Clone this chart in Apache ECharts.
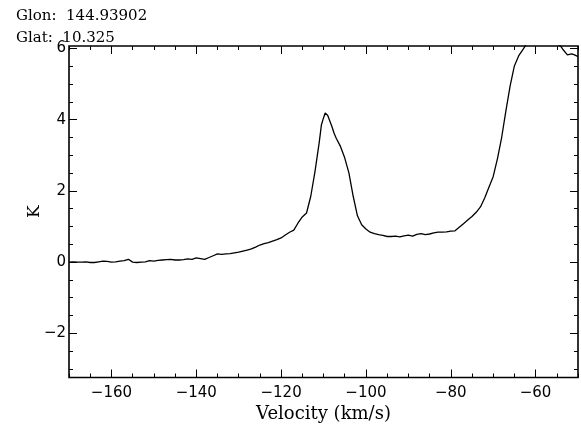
<!DOCTYPE html>
<html>
<head>
<meta charset="utf-8">
<script src="https://cdn.jsdelivr.net/npm/echarts@6/dist/echarts.min.js"></script>
<style>html,body{margin:0;padding:0;background:#fff;}#c{width:581px;height:436px;}</style>
</head>
<body>
<div id="c"></div>
<script>
const glonText = 'Glon:  144.93902';
const glatText = 'Glat:  10.325';
const xTitle = 'Velocity (km/s)';
const yTitle = 'K';
const xMajor = [-160, -140, -120, -100, -80, -60];
const xMinor = [-170,-165,-160,-155,-150,-145,-140,-135,-130,-125,-120,-115,-110,-105,-100,-95,-90,-85,-80,-75,-70,-65,-60,-55,-50];
const yMajor = [-2, 0, 2, 4, 6];
const yMinor = [-3,-2.5,-2,-1.5,-1,-0.5,0,0.5,1,1.5,2,2.5,3,3.5,4,4.5,5,5.5,6];

const velocity = [
 -170,-169,-168,-167,-166,-165,-164,-163,-162,-161,-160,-159,-158,-157,-156,-155,-154,-153,-152,-151,
 -150,-149,-148,-147,-146,-145,-144,-143,-142,-141,-140,-139,-138,-137,-136,-135,-134,-133,-132,-131,
 -130,-129,-128,-127,-126,-125,-124,-123,-122,-121,-120,-119,-118,-117,-116,-115,-114,-113,-112,-111,
 -110.5,-110,-109.6,-109,-108.6,-108,-107.5,-107,-106,-105,-104,-103,-102,-101,-100,-99,-98,-97,-96,-95,
 -94,-93,-92,-91,-90,-89,-88,-87,-86,-85,-84,-83,-82,-81,-80,-79,-78,-77,-76,-75,
 -74,-73,-72,-71,-70,-69,-68,-67,-66,-65,-64,-63,-62,-61,-60,-59,-58,-57,-56,-55,
 -54,-53.4,-52.5,-51.5,-50.8,-50
];
const kelvin = [
 0.00,0.01,0.00,0.00,0.01,-0.01,-0.01,0.01,0.03,0.02,0.00,0.01,0.03,0.04,0.08,0.00,-0.01,0.00,0.01,0.04,
 0.03,0.05,0.06,0.07,0.08,0.06,0.06,0.07,0.09,0.08,0.12,0.10,0.08,0.13,0.18,0.23,0.22,0.23,0.24,0.26,
 0.28,0.31,0.34,0.37,0.42,0.48,0.52,0.55,0.59,0.63,0.68,0.76,0.84,0.90,1.10,1.27,1.38,1.85,2.55,3.37,
 3.85,4.05,4.19,4.12,4.07,3.80,3.62,3.48,3.25,2.93,2.50,1.85,1.30,1.05,0.93,0.84,0.80,0.77,0.75,0.72,
 0.72,0.73,0.71,0.74,0.76,0.73,0.78,0.80,0.77,0.79,0.82,0.84,0.84,0.85,0.87,0.88,0.98,1.08,1.18,1.28,
 1.40,1.55,1.80,2.10,2.40,2.90,3.50,4.25,4.95,5.51,5.79,5.97,6.15,6.30,6.40,6.45,6.40,6.35,6.25,6.15,
 6.05,5.95,5.82,5.85,5.82,5.77
];

const X_MIN = -170, X_MAX = -50, Y_MIN = -3.24, Y_MAX = 6.07;
const LAB = {color:'#000', fontFamily:'DejaVu Sans', fontSize:15};
const fmt = v => String(v).replace('-', '\u2212');

function xAx(pos, vals, len, labels, name) {
  const a = {type:'value', position:pos, min:X_MIN, max:X_MAX,
    axisLine:{show:false, onZero:false}, splitLine:{show:false},
    axisTick:{show:true, inside:true, length:len, customValues:vals, lineStyle:{color:'#000', width:1}},
    axisLabel:{show:labels, customValues:vals, margin:8, formatter:fmt, ...LAB}};
  if (name) { a.name = name; a.nameLocation = 'middle'; a.nameGap = 24;
    a.nameTextStyle = {color:'#000', fontFamily:'DejaVu Serif', fontSize:18}; }
  return a;
}
function yAx(pos, vals, len, labels, name) {
  const a = {type:'value', position:pos, min:Y_MIN, max:Y_MAX,
    axisLine:{show:false, onZero:false}, splitLine:{show:false},
    axisTick:{show:true, inside:true, length:len, customValues:vals, lineStyle:{color:'#000', width:1}},
    axisLabel:{show:labels, customValues:vals, margin:3, formatter:fmt, ...LAB}};
  if (name) { a.name = name; a.nameLocation = 'middle'; a.nameGap = 26; a.nameRotate = 90;
    a.nameMoveOverlap = false;
    a.nameTextStyle = {color:'#000', fontFamily:'DejaVu Serif', fontSize:17}; }
  return a;
}

const chart = echarts.init(document.getElementById('c'), null, {renderer:'canvas'});
chart.setOption({
  animation:false,
  backgroundColor:'#fff',
  title:[
    {text:glonText, left:11, top:4, textStyle:{color:'#000', fontFamily:'DejaVu Serif', fontSize:15, fontWeight:'normal'}},
    {text:glatText, left:11, top:26, textStyle:{color:'#000', fontFamily:'DejaVu Serif', fontSize:15, fontWeight:'normal'}}
  ],
  grid:{left:69, right:3, top:46, bottom:58.5, show:true, borderColor:'#000', borderWidth:1.6, backgroundColor:'transparent'},
  xAxis:[
    xAx('bottom', xMajor, 8, true, xTitle),
    xAx('bottom', xMinor, 4, false),
    xAx('top', xMajor, 8, false),
    xAx('top', xMinor, 4, false)
  ],
  yAxis:[
    yAx('left', yMajor, 8, true, yTitle),
    yAx('left', yMinor, 4, false),
    yAx('right', yMajor, 8, false),
    yAx('right', yMinor, 4, false)
  ],
  series:[{
    type:'line', xAxisIndex:0, yAxisIndex:0, showSymbol:false, clip:true,
    lineStyle:{color:'#000', width:1.3},
    data: velocity.map((v, i) => [v, kelvin[i]])
  }]
});
</script>
</body>
</html>
